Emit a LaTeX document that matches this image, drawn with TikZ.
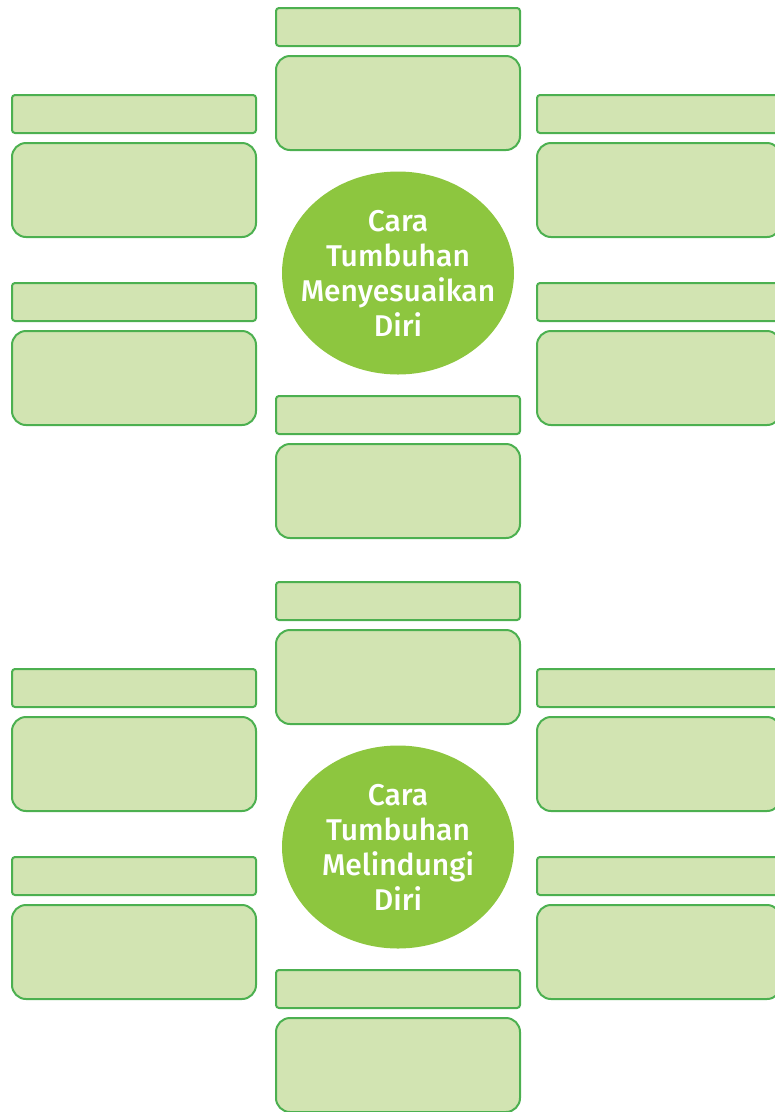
\documentclass[tikz,border=0pt]{standalone}
\usepackage{fontspec}
\setmainfont{Fira Sans}
\newfontfamily\topicfont{Fira Sans Medium}
\definecolor{boxgreen}{RGB}{210, 228, 178}
\definecolor{linegreen}{RGB}{76, 176, 80}
\definecolor{leafgreen}{RGB}{141, 198, 63}
\usetikzlibrary{positioning,shapes.geometric}

\begin{document}
\begin{tikzpicture}[x=1pt, y=-1pt, node distance=10pt,
    titlebar/.style={rectangle, draw=linegreen, line width=2pt, fill=boxgreen, rounded corners=3pt,
        minimum width=244pt, minimum height=38pt, inner sep=0pt, outer sep=0pt},
    answerbox/.style={rectangle, draw=linegreen, line width=2pt, fill=boxgreen, rounded corners=14pt,
        minimum width=244pt, minimum height=94pt, inner sep=0pt, outer sep=0pt},
    topic/.style={ellipse, fill=leafgreen, minimum width=232pt, minimum height=203pt, inner sep=-20pt,
        text=white, align=center, font=\topicfont\fontsize{30}{35}\selectfont}]
    \useasboundingbox (0,0) rectangle (775,1112);

    % Diagram 1: adaptation
    \node[topic] (adapt) at (398,273) {Cara\\Tumbuhan\\Menyesuaikan\\Diri};
    \node[titlebar] (aTopBar) at (398,27) {};
    \node[answerbox, below=of aTopBar] (aTopBox) {};
    \node[titlebar] (aLeftBarA) at (134,114) {};
    \node[answerbox, below=of aLeftBarA] (aLeftBoxA) {};
    \node[titlebar] (aLeftBarB) at (134,302) {};
    \node[answerbox, below=of aLeftBarB] (aLeftBoxB) {};
    \node[titlebar] (aRightBarA) at (659,114) {};
    \node[answerbox, below=of aRightBarA] (aRightBoxA) {};
    \node[titlebar] (aRightBarB) at (659,302) {};
    \node[answerbox, below=of aRightBarB] (aRightBoxB) {};
    \node[titlebar] (aBottomBar) at (398,415) {};
    \node[answerbox, below=of aBottomBar] (aBottomBox) {};

    % Diagram 2: protection
    \node[topic] (protect) at (398,847) {Cara\\Tumbuhan\\Melindungi\\Diri};
    \node[titlebar] (pTopBar) at (398,601) {};
    \node[answerbox, below=of pTopBar] (pTopBox) {};
    \node[titlebar] (pLeftBarA) at (134,688) {};
    \node[answerbox, below=of pLeftBarA] (pLeftBoxA) {};
    \node[titlebar] (pLeftBarB) at (134,876) {};
    \node[answerbox, below=of pLeftBarB] (pLeftBoxB) {};
    \node[titlebar] (pRightBarA) at (659,688) {};
    \node[answerbox, below=of pRightBarA] (pRightBoxA) {};
    \node[titlebar] (pRightBarB) at (659,876) {};
    \node[answerbox, below=of pRightBarB] (pRightBoxB) {};
    \node[titlebar] (pBottomBar) at (398,989) {};
    \node[answerbox, below=of pBottomBar] (pBottomBox) {};
\end{tikzpicture}
\end{document}
